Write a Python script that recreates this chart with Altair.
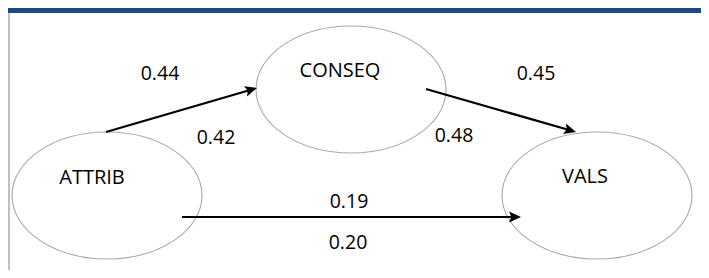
import altair as alt
import pandas as pd

# ---- data (page pixel coordinates) ----
node_names = ["ATTRIB", "CONSEQ", "VALS"]
node_cx = [107, 351, 597]
node_cy = [195.5, 89.5, 195.5]
label_x = [92, 340, 585]
label_y = [178, 71, 177]

edge_x1 = [106, 426, 182]
edge_y1 = [132, 89, 217]
edge_x2 = [257, 576, 521]
edge_y2 = [88, 132, 217]

coef_text = ["0.44", "0.42", "0.45", "0.48", "0.19", "0.20"]
coef_x = [160, 216, 536, 454, 349, 348]
coef_y = [74, 138, 74, 136, 202, 243]

W, H = 693, 262
FONT = "Open Sans"
xs = alt.Scale(domain=[8, 8 + W])
ys = alt.Scale(domain=[8, 8 + H], reverse=True)

nodes = pd.DataFrame({"name": node_names, "cx": node_cx, "cy": node_cy,
                      "lx": label_x, "ly": label_y})
edges = pd.DataFrame({"x1": edge_x1, "y1": edge_y1, "x2": edge_x2, "y2": edge_y2})
coefs = pd.DataFrame({"t": coef_text, "x": coef_x, "y": coef_y})

ellipse_path = ("M -1 0 C -1 -0.369 -0.552 -0.668 0 -0.668 "
                "C 0.552 -0.668 1 -0.369 1 0 "
                "C 1 0.369 0.552 0.668 0 0.668 "
                "C -0.552 0.668 -1 0.369 -1 0 Z")
arrow_path = "M 0 0 L -0.45 1 L 0 0.8 L 0.45 1 Z"

ellipses = alt.Chart(nodes).mark_point(
    shape=ellipse_path, size=36100, filled=False, stroke="#a8a8a8",
    strokeWidth=1.1, opacity=1
).encode(
    x=alt.X("cx:Q", scale=xs, axis=None),
    y=alt.Y("cy:Q", scale=ys, axis=None),
)

node_labels = alt.Chart(nodes).mark_text(
    font=FONT, fontSize=20, fontWeight=500, color="#000000",
    baseline="middle", align="center"
).encode(
    x=alt.X("lx:Q", scale=xs, axis=None),
    y=alt.Y("ly:Q", scale=ys, axis=None),
    text="name:N",
)

edge_base = alt.Chart(edges).transform_calculate(
    L="sqrt(pow(datum.x2 - datum.x1, 2) + pow(datum.y2 - datum.y1, 2))",
).transform_calculate(
    xe="datum.x2 - 8 * (datum.x2 - datum.x1) / datum.L",
    ye="datum.y2 - 8 * (datum.y2 - datum.y1) / datum.L",
    ang="(atan2(datum.x2 - datum.x1, datum.y1 - datum.y2) * 180 / PI + 360) % 360",
)

lines = edge_base.mark_rule(color="#000000", strokeWidth=2.2).encode(
    x=alt.X("x1:Q", scale=xs, axis=None),
    y=alt.Y("y1:Q", scale=ys, axis=None),
    x2="xe:Q",
    y2="ye:Q",
)

heads = edge_base.mark_point(
    shape=arrow_path, size=576, filled=True, color="#000000", opacity=1, strokeWidth=0
).encode(
    x=alt.X("x2:Q", scale=xs, axis=None),
    y=alt.Y("y2:Q", scale=ys, axis=None),
    angle=alt.Angle("ang:Q", scale=None),
)

coef_labels = alt.Chart(coefs).mark_text(
    font=FONT, fontSize=19.5, fontWeight=500, color="#000000",
    baseline="middle", align="center"
).encode(
    x=alt.X("x:Q", scale=xs, axis=None),
    y=alt.Y("y:Q", scale=ys, axis=None),
    text="t:N",
)

top_bar = alt.Chart(nodes).mark_rect(color="#1f497d").encode(
    x=alt.value(0), x2=alt.value(W), y=alt.value(0), y2=alt.value(5)
)
left_line = alt.Chart(nodes).mark_rule(color="#c0c0c0", strokeWidth=2).encode(
    x=alt.value(1), y=alt.value(5), y2=alt.value(H)
)

chart = alt.layer(
    ellipses, lines, heads, node_labels, coef_labels, top_bar, left_line
).properties(
    width=W, height=H, padding=0, autosize=alt.AutoSizeParams(type="none"),
    background="white"
).configure_view(stroke=None)

chart.save("out.html", embed_options={"renderer": "svg", "actions": False})
